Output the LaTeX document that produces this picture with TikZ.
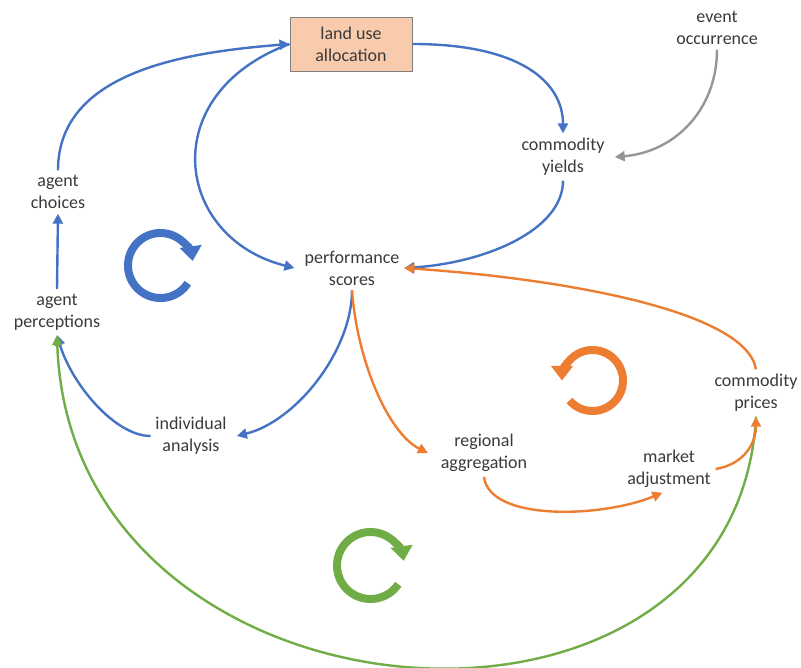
\documentclass[tikz,border=0pt]{standalone}
\usepackage{fontspec}
\setmainfont{Carlito}
\usepackage{xcolor}
\usepackage{tikz}
\usetikzlibrary{arrows.meta}

\definecolor{flowblue}{RGB}{68,114,196}
\definecolor{floworange}{RGB}{237,125,49}
\definecolor{flowgreen}{RGB}{112,173,71}
\definecolor{flowgray}{RGB}{150,150,150}
\definecolor{boxfill}{RGB}{248,203,173}
\definecolor{txtgray}{RGB}{58,58,58}

\tikzset{
  lbl/.style={align=center, text=txtgray, font=\fontsize{13.5}{16.5}\selectfont, inner sep=3.5pt},
  link/.style={line width=1.8pt, -{Triangle[length=7.5pt,width=7.5pt]}},
  cyclearrow/.style={line width=6pt, -{Triangle[length=11pt,width=16pt]}},
}

\begin{document}
\begin{tikzpicture}[x=0.75pt,y=0.75pt,yscale=-1,xscale=1]
\useasboundingbox (0,0) rectangle (801,668);

        % labels
        \node [lbl, draw=gray, line width=0.75pt, fill=boxfill, minimum width=91.5pt, minimum height=40.5pt] (landuse) at (351,44) {land use\\allocation};
        \node [lbl] (event) at (717,28) {event\\occurrence};
        \node [lbl] (yields) at (563,157) {commodity\\yields};
        \node [lbl] (choices) at (58,192) {agent\\choices};
        \node [lbl] (percept) at (57,312) {agent\\perceptions};
        \node [lbl] (perf) at (352,268) {performance\\scores};
        \node [lbl] (indiv) at (191,436) {individual\\analysis};
        \node [lbl] (region) at (484,453) {regional\\aggregation};
        \node [lbl] (market) at (669,469) {market\\adjustment};
        \node [lbl] (prices) at (756,393) {commodity\\prices};

        % blue loop
        \draw [link, flowblue] (choices.north) .. controls +(0,-100) and +(-100,8) .. (landuse.west);
        \draw [link, flowblue] (landuse.west) .. controls +(-135,50) and +(-120,-30) .. ([xshift=-4pt]perf.west);
        \draw [link, flowblue] (landuse.east) .. controls +(110,0) and +(0,-50) .. (yields.north);
        \draw [link, flowblue] (yields.south) .. controls +(0,50) and +(80,-5) .. (perf.east);
        \draw [link, flowblue] (percept.north) -- (choices.south);
        \draw [link, flowblue] (perf.south) .. controls +(0,60) and +(60,-15) .. ([xshift=4pt]indiv.east);
        \draw [link, flowblue] (indiv.west) .. controls +(-35,0) and +(15,50) .. (percept.south);

        \draw [link, flowgray] (event.south) .. controls +(0,60) and +(60,-5) .. ([xshift=4pt]yields.east);

        % green loop
        \draw [link, flowgreen] (prices.south) .. controls +(-20,370) and +(13,403) .. (percept.south);

        % orange loop
        \draw [link, floworange] (perf.south) .. controls +(5,70) and +(-40,-20) .. ([xshift=-6pt]region.west);
        \draw [link, floworange] (region.south) .. controls +(5,45) and +(-60,25) .. ([xshift=-5pt]market.south);
        \draw [link, floworange] (market.east) .. controls +(30,-5) and +(0,25) .. (prices.south);
        \draw [link, floworange] (prices.north) .. controls +(-10,-60) and +(150,10) .. (perf.east);

        % cycle marks
        \draw [cyclearrow, flowblue] (160.5,265.5) ++(33:32.5) arc [start angle=33, end angle=352, radius=32.5];
        \draw [cyclearrow, floworange] (592.5,380.5) ++(139:30.5) arc [start angle=139, end angle=-180, radius=30.5];
        \draw [cyclearrow, flowgreen] (370.5,565.5) ++(34:33.5) arc [start angle=34, end angle=352, radius=33.5];
    \end{tikzpicture}
\end{document}
